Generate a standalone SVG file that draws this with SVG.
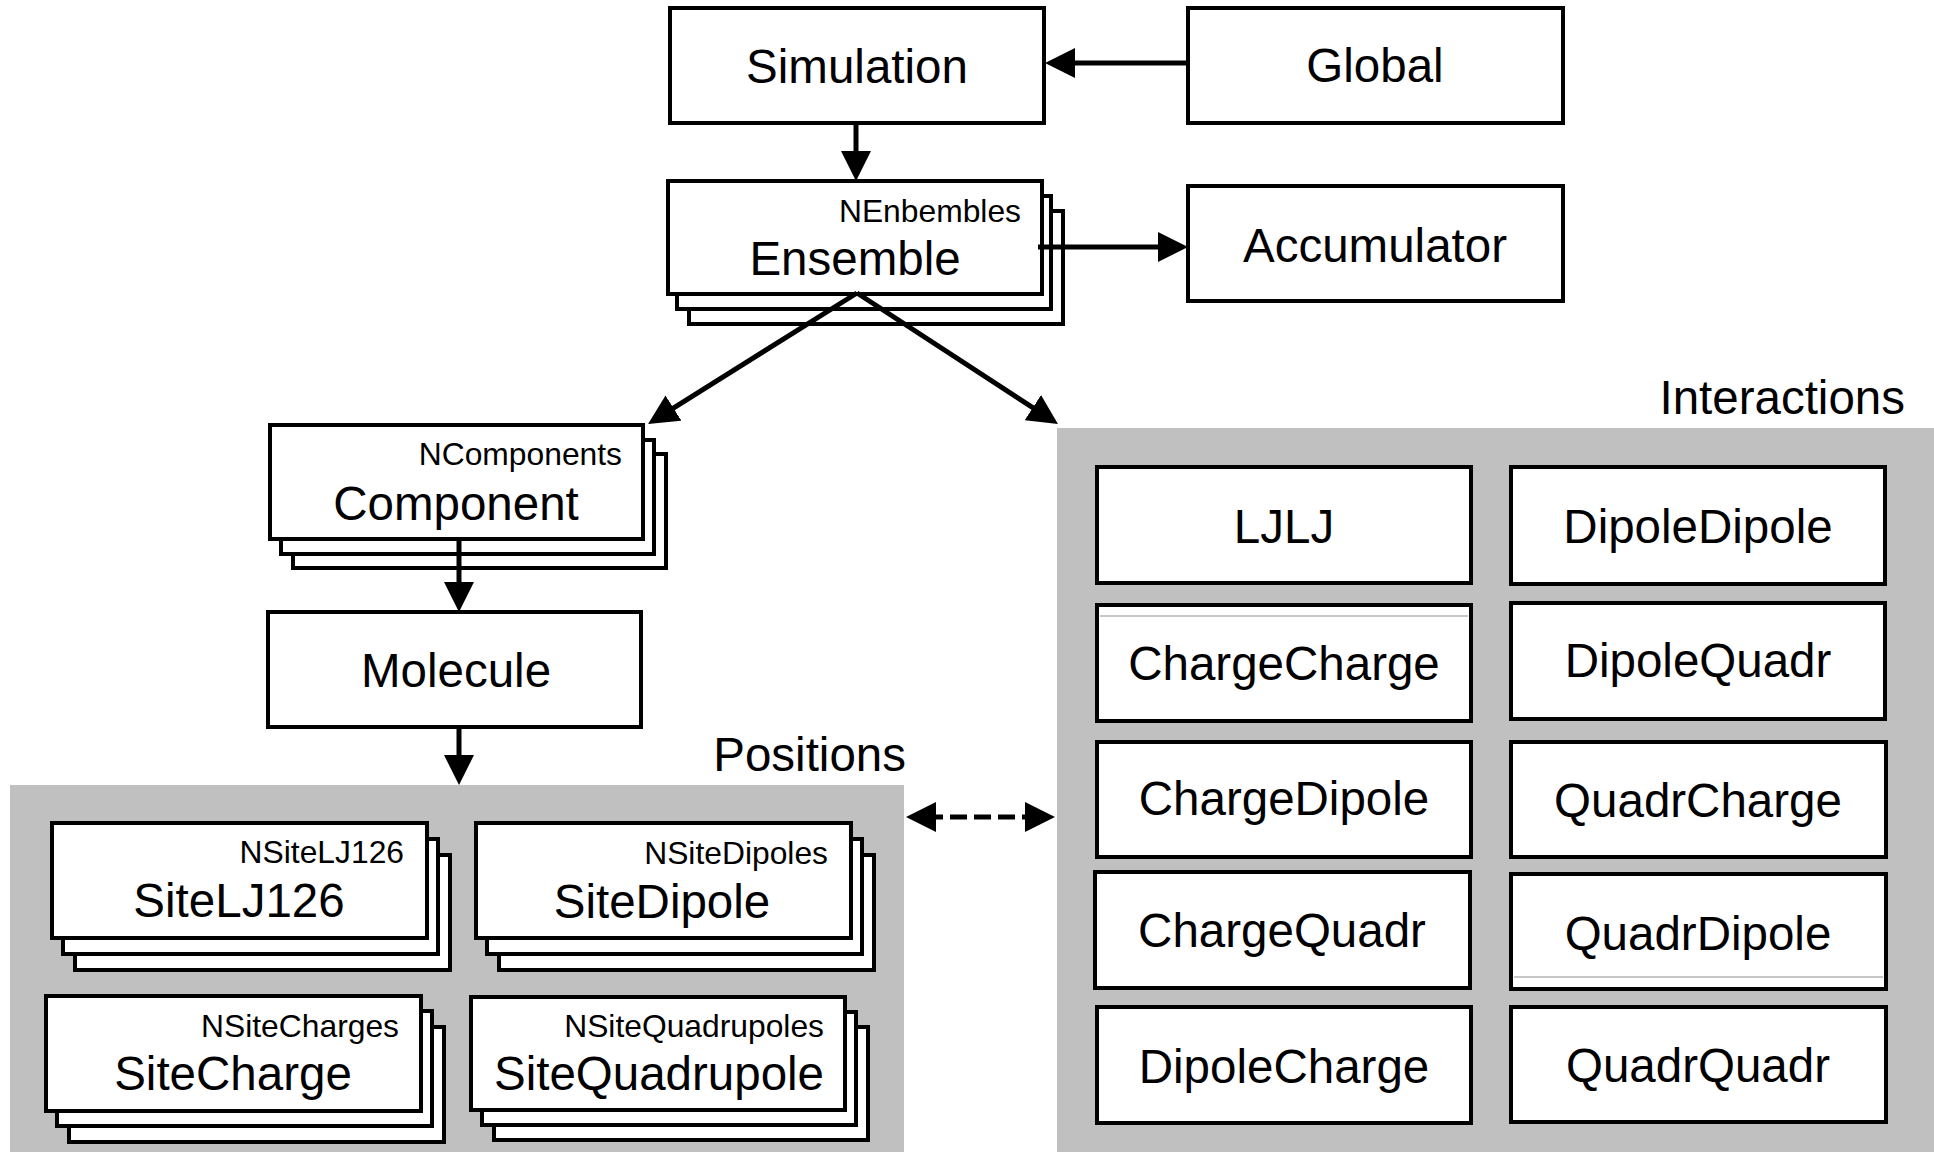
<svg xmlns="http://www.w3.org/2000/svg" width="1934" height="1152" viewBox="0 0 1934 1152">
<defs>
<style>
.box{fill:#fff;stroke:#000;stroke-width:4}
.panel{fill:#c0c0c0;stroke:none}
.lbl{font-family:"Liberation Sans",Arial,sans-serif;font-size:47.5px;fill:#000;text-anchor:middle}
.sm{font-family:"Liberation Sans",Arial,sans-serif;font-size:31.8px;fill:#000;text-anchor:end}
.ttl{font-family:"Liberation Sans",Arial,sans-serif;font-size:47.5px;fill:#000;text-anchor:end}
.con{stroke:#000;stroke-width:5;fill:none;marker-end:url(#ah)}
.dash{stroke:#000;stroke-width:5;fill:none;stroke-dasharray:17 7;marker-start:url(#ah);marker-end:url(#ah)}
.art{stroke:#b4b4b4;stroke-width:1.5}
</style>
<marker id="ah" markerUnits="userSpaceOnUse" markerWidth="30" markerHeight="30" refX="10" refY="15" orient="auto-start-reverse">
<path d="M0,0 L30,15 L0,30 z" fill="#000"/>
</marker>
</defs>
<rect width="1934" height="1152" fill="#fff"/>

<g id="positions-panel">
<rect class="panel" x="10" y="785" width="894" height="367"/>
<text class="ttl" x="906" y="771">Positions</text>
</g>
<g id="interactions-panel">
<rect class="panel" x="1057" y="428" width="877" height="724"/>
<text class="ttl" x="1905" y="414">Interactions</text>
</g>

<g id="simulation">
<rect class="box" x="670" y="8" width="374" height="115"/>
<text class="lbl" x="857" y="83">Simulation</text>
</g>
<g id="global">
<rect class="box" x="1188" y="8" width="375" height="115"/>
<text class="lbl" x="1375" y="82">Global</text>
</g>
<g id="ensemble">
<rect class="box" x="689" y="211" width="374" height="113"/>
<rect class="box" x="677" y="196" width="374" height="113"/>
<rect class="box" x="668" y="181" width="374" height="113"/>
<text class="sm" x="1021" y="222">NEnbembles</text>
<text class="lbl" x="855" y="275">Ensemble</text>
</g>
<g id="accumulator">
<rect class="box" x="1188" y="186" width="375" height="115"/>
<text class="lbl" x="1375" y="262">Accumulator</text>
</g>
<g id="component">
<rect class="box" x="293" y="454" width="373" height="114"/>
<rect class="box" x="281" y="440" width="373" height="114"/>
<rect class="box" x="270" y="425" width="373" height="114"/>
<text class="sm" x="622" y="465">NComponents</text>
<text class="lbl" x="456" y="520">Component</text>
</g>
<g id="molecule">
<rect class="box" x="268" y="612" width="373" height="115"/>
<text class="lbl" x="456" y="687">Molecule</text>
</g>

<g id="siteLJ126">
<rect class="box" x="75" y="855" width="375" height="115"/>
<rect class="box" x="63" y="839" width="375" height="115"/>
<rect class="box" x="52" y="823" width="375" height="115"/>
<text class="sm" x="404" y="863">NSiteLJ126</text>
<text class="lbl" x="239" y="917">SiteLJ126</text>
</g>
<g id="siteDipole">
<rect class="box" x="499" y="855" width="375" height="115"/>
<rect class="box" x="487" y="839" width="375" height="115"/>
<rect class="box" x="476" y="823" width="375" height="115"/>
<text class="sm" x="828" y="864">NSiteDipoles</text>
<text class="lbl" x="662" y="918">SiteDipole</text>
</g>
<g id="siteCharge">
<rect class="box" x="69" y="1027" width="375" height="115"/>
<rect class="box" x="57" y="1011" width="375" height="115"/>
<rect class="box" x="46" y="996" width="375" height="115"/>
<text class="sm" x="399" y="1037">NSiteCharges</text>
<text class="lbl" x="233" y="1090">SiteCharge</text>
</g>
<g id="siteQuadrupole">
<rect class="box" x="494" y="1027" width="374" height="113"/>
<rect class="box" x="482" y="1012" width="374" height="113"/>
<rect class="box" x="471" y="997" width="374" height="113"/>
<text class="sm" x="824" y="1037">NSiteQuadrupoles</text>
<text class="lbl" x="659" y="1090">SiteQuadrupole</text>
</g>

<g id="ljlj">
<rect class="box" x="1097" y="467" width="374" height="116"/>
<text class="lbl" x="1284" y="543">LJLJ</text>
</g>
<g id="dipoleDipole">
<rect class="box" x="1511" y="467" width="374" height="117"/>
<text class="lbl" x="1698" y="543">DipoleDipole</text>
</g>
<g id="chargeCharge">
<rect class="box" x="1097" y="605" width="374" height="116"/>
<line class="art" x1="1100" y1="616" x2="1468" y2="616"/>
<text class="lbl" x="1284" y="680">ChargeCharge</text>
</g>
<g id="dipoleQuadr">
<rect class="box" x="1511" y="603" width="374" height="116"/>
<text class="lbl" x="1698" y="677">DipoleQuadr</text>
</g>
<g id="chargeDipole">
<rect class="box" x="1097" y="742" width="374" height="115"/>
<text class="lbl" x="1284" y="815">ChargeDipole</text>
</g>
<g id="quadrCharge">
<rect class="box" x="1511" y="742" width="375" height="115"/>
<text class="lbl" x="1698" y="817">QuadrCharge</text>
</g>
<g id="chargeQuadr">
<rect class="box" x="1095" y="872" width="375" height="116"/>
<text class="lbl" x="1282" y="947">ChargeQuadr</text>
</g>
<g id="quadrDipole">
<rect class="box" x="1511" y="874" width="375" height="115"/>
<line class="art" x1="1514" y1="977" x2="1883" y2="977"/>
<text class="lbl" x="1698" y="950">QuadrDipole</text>
</g>
<g id="dipoleCharge">
<rect class="box" x="1097" y="1007" width="374" height="116"/>
<text class="lbl" x="1284" y="1083">DipoleCharge</text>
</g>
<g id="quadrQuadr">
<rect class="box" x="1511" y="1007" width="375" height="115"/>
<text class="lbl" x="1698" y="1082">QuadrQuadr</text>
</g>

<g id="connectors">
<line class="con" x1="1188" y1="63" x2="1065" y2="63"/>
<line class="con" x1="856" y1="123" x2="856" y2="161"/>
<line class="con" x1="1038" y1="247" x2="1168" y2="247"/>
<line class="con" x1="857" y1="293" x2="665" y2="413.4"/>
<line class="con" x1="857" y1="293" x2="1041.2" y2="413.1"/>
<line class="con" x1="459" y1="539" x2="459" y2="592"/>
<line class="con" x1="459" y1="727" x2="459" y2="765"/>
<line class="dash" x1="926" y1="817" x2="1035" y2="817"/>
</g>
</svg>
